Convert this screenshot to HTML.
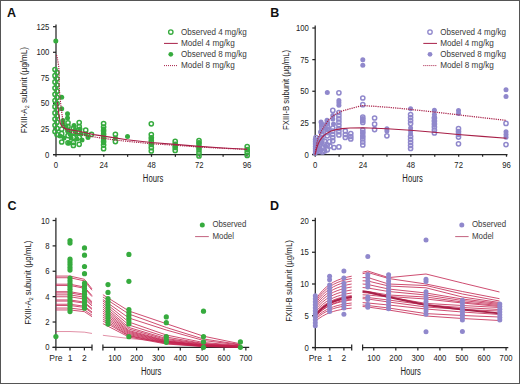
<!DOCTYPE html>
<html><head><meta charset="utf-8"><style>
html,body{margin:0;padding:0;background:#fff;}
svg{display:block;font-family:"Liberation Sans", sans-serif;}
</style></head><body>
<svg width="520" height="384" viewBox="0 0 520 384">
<rect x="0" y="0" width="520" height="384" fill="#fff"/>
<text x="7.00" y="16.90" font-size="12.5" text-anchor="start" font-weight="bold" fill="#111" >A</text>
<line x1="56.00" y1="24.50" x2="56.00" y2="155.10" stroke="#262626" stroke-width="1.25" />
<line x1="53.00" y1="154.60" x2="247.00" y2="154.60" stroke="#262626" stroke-width="1.25" />
<line x1="53.00" y1="154.60" x2="56.00" y2="154.60" stroke="#262626" stroke-width="1.25" />
<text x="49.30" y="157.60" font-size="8.5" text-anchor="end" font-weight="normal" fill="#222222" textLength="4.3" lengthAdjust="spacingAndGlyphs" >0</text>
<line x1="53.00" y1="129.02" x2="56.00" y2="129.02" stroke="#262626" stroke-width="1.25" />
<text x="49.30" y="132.02" font-size="8.5" text-anchor="end" font-weight="normal" fill="#222222" textLength="8.6" lengthAdjust="spacingAndGlyphs" >25</text>
<line x1="53.00" y1="103.44" x2="56.00" y2="103.44" stroke="#262626" stroke-width="1.25" />
<text x="49.30" y="106.44" font-size="8.5" text-anchor="end" font-weight="normal" fill="#222222" textLength="8.6" lengthAdjust="spacingAndGlyphs" >50</text>
<line x1="53.00" y1="77.86" x2="56.00" y2="77.86" stroke="#262626" stroke-width="1.25" />
<text x="49.30" y="80.86" font-size="8.5" text-anchor="end" font-weight="normal" fill="#222222" textLength="8.6" lengthAdjust="spacingAndGlyphs" >75</text>
<line x1="53.00" y1="52.28" x2="56.00" y2="52.28" stroke="#262626" stroke-width="1.25" />
<text x="49.30" y="55.28" font-size="8.5" text-anchor="end" font-weight="normal" fill="#222222" textLength="12.9" lengthAdjust="spacingAndGlyphs" >100</text>
<line x1="53.00" y1="26.70" x2="56.00" y2="26.70" stroke="#262626" stroke-width="1.25" />
<text x="49.30" y="29.70" font-size="8.5" text-anchor="end" font-weight="normal" fill="#222222" textLength="12.9" lengthAdjust="spacingAndGlyphs" >125</text>
<line x1="56.00" y1="154.60" x2="56.00" y2="156.80" stroke="#262626" stroke-width="1.25" />
<line x1="79.88" y1="154.60" x2="79.88" y2="156.80" stroke="#262626" stroke-width="1.25" />
<line x1="103.75" y1="154.60" x2="103.75" y2="156.80" stroke="#262626" stroke-width="1.25" />
<line x1="127.62" y1="154.60" x2="127.62" y2="156.80" stroke="#262626" stroke-width="1.25" />
<line x1="151.50" y1="154.60" x2="151.50" y2="156.80" stroke="#262626" stroke-width="1.25" />
<line x1="175.38" y1="154.60" x2="175.38" y2="156.80" stroke="#262626" stroke-width="1.25" />
<line x1="199.25" y1="154.60" x2="199.25" y2="156.80" stroke="#262626" stroke-width="1.25" />
<line x1="223.12" y1="154.60" x2="223.12" y2="156.80" stroke="#262626" stroke-width="1.25" />
<line x1="247.00" y1="154.60" x2="247.00" y2="156.80" stroke="#262626" stroke-width="1.25" />
<text x="56.00" y="167.80" font-size="8.5" text-anchor="middle" font-weight="normal" fill="#222222" textLength="4.3" lengthAdjust="spacingAndGlyphs" >0</text>
<text x="103.75" y="167.80" font-size="8.5" text-anchor="middle" font-weight="normal" fill="#222222" textLength="8.6" lengthAdjust="spacingAndGlyphs" >24</text>
<text x="151.50" y="167.80" font-size="8.5" text-anchor="middle" font-weight="normal" fill="#222222" textLength="8.6" lengthAdjust="spacingAndGlyphs" >48</text>
<text x="199.25" y="167.80" font-size="8.5" text-anchor="middle" font-weight="normal" fill="#222222" textLength="8.6" lengthAdjust="spacingAndGlyphs" >72</text>
<text x="247.00" y="167.80" font-size="8.5" text-anchor="middle" font-weight="normal" fill="#222222" textLength="8.6" lengthAdjust="spacingAndGlyphs" >96</text>
<text x="153.10" y="181.70" font-size="10" text-anchor="middle" font-weight="normal" fill="#222222" textLength="20.5" lengthAdjust="spacingAndGlyphs" >Hours</text>
<text x="0" y="0" transform="translate(27.4,90.2) rotate(-90)" font-size="8.4" text-anchor="middle" fill="#222222" textLength="86.3" lengthAdjust="spacingAndGlyphs">FXIII-A<tspan font-size="5.5" dy="1.5">2</tspan><tspan dy="-1.5"> subunit (µg/mL)</tspan></text>
<circle cx="170.80" cy="32.00" r="2.2" fill="none" stroke="#36ab3e" stroke-width="1.35"/>
<text x="181.00" y="34.60" font-size="8.3" text-anchor="start" font-weight="normal" fill="#3a3a3a" textLength="65.8" lengthAdjust="spacingAndGlyphs" >Observed 4 mg/kg</text>
<line x1="164.00" y1="43.40" x2="177.80" y2="43.40" stroke="#a82048" stroke-width="1.0" />
<text x="181.00" y="45.70" font-size="8.3" text-anchor="start" font-weight="normal" fill="#3a3a3a" textLength="53.7" lengthAdjust="spacingAndGlyphs" >Model 4 mg/kg</text>
<circle cx="170.80" cy="54.30" r="2.4" fill="#36ab3e"/>
<text x="181.00" y="56.90" font-size="8.3" text-anchor="start" font-weight="normal" fill="#3a3a3a" textLength="65.8" lengthAdjust="spacingAndGlyphs" >Observed 8 mg/kg</text>
<line x1="164.00" y1="65.60" x2="177.80" y2="65.60" stroke="#a82048" stroke-width="1.0" stroke-dasharray="1,1"/>
<text x="181.00" y="68.30" font-size="8.3" text-anchor="start" font-weight="normal" fill="#3a3a3a" textLength="53.7" lengthAdjust="spacingAndGlyphs" >Model 8 mg/kg</text>
<text x="270.30" y="16.90" font-size="12.5" text-anchor="start" font-weight="bold" fill="#111" >B</text>
<line x1="315.20" y1="25.50" x2="315.20" y2="155.00" stroke="#262626" stroke-width="1.25" />
<line x1="312.30" y1="154.50" x2="507.50" y2="154.50" stroke="#262626" stroke-width="1.25" />
<line x1="312.30" y1="154.50" x2="315.20" y2="154.50" stroke="#262626" stroke-width="1.25" />
<text x="308.80" y="157.50" font-size="8.5" text-anchor="end" font-weight="normal" fill="#222222" textLength="4.3" lengthAdjust="spacingAndGlyphs" >0</text>
<line x1="312.30" y1="122.88" x2="315.20" y2="122.88" stroke="#262626" stroke-width="1.25" />
<text x="308.80" y="125.88" font-size="8.5" text-anchor="end" font-weight="normal" fill="#222222" textLength="8.6" lengthAdjust="spacingAndGlyphs" >25</text>
<line x1="312.30" y1="91.25" x2="315.20" y2="91.25" stroke="#262626" stroke-width="1.25" />
<text x="308.80" y="94.25" font-size="8.5" text-anchor="end" font-weight="normal" fill="#222222" textLength="8.6" lengthAdjust="spacingAndGlyphs" >50</text>
<line x1="312.30" y1="59.62" x2="315.20" y2="59.62" stroke="#262626" stroke-width="1.25" />
<text x="308.80" y="62.62" font-size="8.5" text-anchor="end" font-weight="normal" fill="#222222" textLength="8.6" lengthAdjust="spacingAndGlyphs" >75</text>
<line x1="312.30" y1="28.00" x2="315.20" y2="28.00" stroke="#262626" stroke-width="1.25" />
<text x="308.80" y="31.00" font-size="8.5" text-anchor="end" font-weight="normal" fill="#222222" textLength="12.9" lengthAdjust="spacingAndGlyphs" >100</text>
<line x1="315.20" y1="154.50" x2="315.20" y2="156.70" stroke="#262626" stroke-width="1.25" />
<line x1="339.11" y1="154.50" x2="339.11" y2="156.70" stroke="#262626" stroke-width="1.25" />
<line x1="363.02" y1="154.50" x2="363.02" y2="156.70" stroke="#262626" stroke-width="1.25" />
<line x1="386.94" y1="154.50" x2="386.94" y2="156.70" stroke="#262626" stroke-width="1.25" />
<line x1="410.85" y1="154.50" x2="410.85" y2="156.70" stroke="#262626" stroke-width="1.25" />
<line x1="434.76" y1="154.50" x2="434.76" y2="156.70" stroke="#262626" stroke-width="1.25" />
<line x1="458.67" y1="154.50" x2="458.67" y2="156.70" stroke="#262626" stroke-width="1.25" />
<line x1="482.59" y1="154.50" x2="482.59" y2="156.70" stroke="#262626" stroke-width="1.25" />
<line x1="506.50" y1="154.50" x2="506.50" y2="156.70" stroke="#262626" stroke-width="1.25" />
<text x="315.20" y="167.80" font-size="8.5" text-anchor="middle" font-weight="normal" fill="#222222" textLength="4.3" lengthAdjust="spacingAndGlyphs" >0</text>
<text x="363.02" y="167.80" font-size="8.5" text-anchor="middle" font-weight="normal" fill="#222222" textLength="8.6" lengthAdjust="spacingAndGlyphs" >24</text>
<text x="410.85" y="167.80" font-size="8.5" text-anchor="middle" font-weight="normal" fill="#222222" textLength="8.6" lengthAdjust="spacingAndGlyphs" >48</text>
<text x="458.67" y="167.80" font-size="8.5" text-anchor="middle" font-weight="normal" fill="#222222" textLength="8.6" lengthAdjust="spacingAndGlyphs" >72</text>
<text x="506.50" y="167.80" font-size="8.5" text-anchor="middle" font-weight="normal" fill="#222222" textLength="8.6" lengthAdjust="spacingAndGlyphs" >96</text>
<text x="412.60" y="181.70" font-size="10" text-anchor="middle" font-weight="normal" fill="#222222" textLength="20.5" lengthAdjust="spacingAndGlyphs" >Hours</text>
<text x="0" y="0" transform="translate(289.0,89.9) rotate(-90)" font-size="8.4" text-anchor="middle" fill="#222222" textLength="80.0" lengthAdjust="spacingAndGlyphs">FXIII-B subunit (µg/mL)</text>
<circle cx="430.00" cy="32.00" r="2.2" fill="none" stroke="#9088cc" stroke-width="1.35"/>
<text x="440.20" y="34.60" font-size="8.3" text-anchor="start" font-weight="normal" fill="#3a3a3a" textLength="65.8" lengthAdjust="spacingAndGlyphs" >Observed 4 mg/kg</text>
<line x1="423.30" y1="43.40" x2="437.00" y2="43.40" stroke="#a82048" stroke-width="1.0" />
<text x="440.20" y="45.70" font-size="8.3" text-anchor="start" font-weight="normal" fill="#3a3a3a" textLength="53.7" lengthAdjust="spacingAndGlyphs" >Model 4 mg/kg</text>
<circle cx="430.00" cy="54.30" r="2.4" fill="#9088cc"/>
<text x="440.20" y="56.90" font-size="8.3" text-anchor="start" font-weight="normal" fill="#3a3a3a" textLength="65.8" lengthAdjust="spacingAndGlyphs" >Observed 8 mg/kg</text>
<line x1="423.30" y1="65.60" x2="437.00" y2="65.60" stroke="#a82048" stroke-width="1.0" stroke-dasharray="1,1"/>
<text x="440.20" y="68.30" font-size="8.3" text-anchor="start" font-weight="normal" fill="#3a3a3a" textLength="53.7" lengthAdjust="spacingAndGlyphs" >Model 8 mg/kg</text>
<text x="7.50" y="210.30" font-size="12.5" text-anchor="start" font-weight="bold" fill="#111" >C</text>
<line x1="55.90" y1="217.70" x2="55.90" y2="350.40" stroke="#262626" stroke-width="1.25" />
<line x1="52.60" y1="347.40" x2="92.00" y2="347.40" stroke="#262626" stroke-width="1.25" />
<line x1="92.00" y1="344.40" x2="92.00" y2="350.40" stroke="#262626" stroke-width="1.25" />
<line x1="102.90" y1="347.40" x2="249.20" y2="347.40" stroke="#262626" stroke-width="1.25" />
<line x1="102.90" y1="344.40" x2="102.90" y2="350.40" stroke="#262626" stroke-width="1.25" />
<line x1="52.60" y1="347.40" x2="55.90" y2="347.40" stroke="#262626" stroke-width="1.25" />
<text x="49.50" y="350.40" font-size="8.5" text-anchor="end" font-weight="normal" fill="#222222" textLength="4.3" lengthAdjust="spacingAndGlyphs" >0</text>
<line x1="52.60" y1="322.02" x2="55.90" y2="322.02" stroke="#262626" stroke-width="1.25" />
<text x="49.50" y="325.02" font-size="8.5" text-anchor="end" font-weight="normal" fill="#222222" textLength="4.3" lengthAdjust="spacingAndGlyphs" >2</text>
<line x1="52.60" y1="296.64" x2="55.90" y2="296.64" stroke="#262626" stroke-width="1.25" />
<text x="49.50" y="299.64" font-size="8.5" text-anchor="end" font-weight="normal" fill="#222222" textLength="4.3" lengthAdjust="spacingAndGlyphs" >4</text>
<line x1="52.60" y1="271.26" x2="55.90" y2="271.26" stroke="#262626" stroke-width="1.25" />
<text x="49.50" y="274.26" font-size="8.5" text-anchor="end" font-weight="normal" fill="#222222" textLength="4.3" lengthAdjust="spacingAndGlyphs" >6</text>
<line x1="52.60" y1="245.88" x2="55.90" y2="245.88" stroke="#262626" stroke-width="1.25" />
<text x="49.50" y="248.88" font-size="8.5" text-anchor="end" font-weight="normal" fill="#222222" textLength="4.3" lengthAdjust="spacingAndGlyphs" >8</text>
<line x1="52.60" y1="220.50" x2="55.90" y2="220.50" stroke="#262626" stroke-width="1.25" />
<text x="49.50" y="223.50" font-size="8.5" text-anchor="end" font-weight="normal" fill="#222222" textLength="8.6" lengthAdjust="spacingAndGlyphs" >10</text>
<line x1="70.00" y1="347.40" x2="70.00" y2="350.40" stroke="#262626" stroke-width="1.25" />
<line x1="84.40" y1="347.40" x2="84.40" y2="350.40" stroke="#262626" stroke-width="1.25" />
<text x="55.90" y="361.20" font-size="8.5" text-anchor="middle" font-weight="normal" fill="#222222" >Pre</text>
<text x="70.00" y="361.20" font-size="8.5" text-anchor="middle" font-weight="normal" fill="#222222" >1</text>
<text x="84.40" y="361.20" font-size="8.5" text-anchor="middle" font-weight="normal" fill="#222222" >2</text>
<line x1="114.75" y1="347.40" x2="114.75" y2="350.40" stroke="#262626" stroke-width="1.25" />
<text x="114.75" y="361.20" font-size="8.5" text-anchor="middle" font-weight="normal" fill="#222222" textLength="12.9" lengthAdjust="spacingAndGlyphs" >100</text>
<line x1="136.60" y1="347.40" x2="136.60" y2="350.40" stroke="#262626" stroke-width="1.25" />
<text x="136.60" y="361.20" font-size="8.5" text-anchor="middle" font-weight="normal" fill="#222222" textLength="12.9" lengthAdjust="spacingAndGlyphs" >200</text>
<line x1="158.45" y1="347.40" x2="158.45" y2="350.40" stroke="#262626" stroke-width="1.25" />
<text x="158.45" y="361.20" font-size="8.5" text-anchor="middle" font-weight="normal" fill="#222222" textLength="12.9" lengthAdjust="spacingAndGlyphs" >300</text>
<line x1="180.30" y1="347.40" x2="180.30" y2="350.40" stroke="#262626" stroke-width="1.25" />
<text x="180.30" y="361.20" font-size="8.5" text-anchor="middle" font-weight="normal" fill="#222222" textLength="12.9" lengthAdjust="spacingAndGlyphs" >400</text>
<line x1="202.15" y1="347.40" x2="202.15" y2="350.40" stroke="#262626" stroke-width="1.25" />
<text x="202.15" y="361.20" font-size="8.5" text-anchor="middle" font-weight="normal" fill="#222222" textLength="12.9" lengthAdjust="spacingAndGlyphs" >500</text>
<line x1="224.00" y1="347.40" x2="224.00" y2="350.40" stroke="#262626" stroke-width="1.25" />
<text x="224.00" y="361.20" font-size="8.5" text-anchor="middle" font-weight="normal" fill="#222222" textLength="12.9" lengthAdjust="spacingAndGlyphs" >600</text>
<line x1="245.85" y1="347.40" x2="245.85" y2="350.40" stroke="#262626" stroke-width="1.25" />
<text x="245.85" y="361.20" font-size="8.5" text-anchor="middle" font-weight="normal" fill="#222222" textLength="12.9" lengthAdjust="spacingAndGlyphs" >700</text>
<text x="151.20" y="375.00" font-size="10" text-anchor="middle" font-weight="normal" fill="#222222" textLength="20.5" lengthAdjust="spacingAndGlyphs" >Hours</text>
<text x="0" y="0" transform="translate(31.0,282.7) rotate(-90)" font-size="8.4" text-anchor="middle" fill="#222222" textLength="84.2" lengthAdjust="spacingAndGlyphs">FXIII-A<tspan font-size="5.5" dy="1.5">2</tspan><tspan dy="-1.5"> subunit (µg/mL)</tspan></text>
<circle cx="202.30" cy="225.00" r="2.5" fill="#36ab3e"/>
<text x="212.40" y="227.40" font-size="8.3" text-anchor="start" font-weight="normal" fill="#3a3a3a" textLength="33.9" lengthAdjust="spacingAndGlyphs" >Observed</text>
<line x1="195.10" y1="236.60" x2="208.80" y2="236.60" stroke="#a82048" stroke-width="0.7" />
<text x="212.40" y="238.90" font-size="8.3" text-anchor="start" font-weight="normal" fill="#3a3a3a" textLength="21.6" lengthAdjust="spacingAndGlyphs" >Model</text>
<text x="269.90" y="210.30" font-size="12.5" text-anchor="start" font-weight="bold" fill="#111" >D</text>
<line x1="315.30" y1="217.70" x2="315.30" y2="350.50" stroke="#262626" stroke-width="1.25" />
<line x1="312.00" y1="347.50" x2="351.70" y2="347.50" stroke="#262626" stroke-width="1.25" />
<line x1="351.70" y1="344.50" x2="351.70" y2="350.50" stroke="#262626" stroke-width="1.25" />
<line x1="362.60" y1="347.50" x2="508.30" y2="347.50" stroke="#262626" stroke-width="1.25" />
<line x1="362.60" y1="344.50" x2="362.60" y2="350.50" stroke="#262626" stroke-width="1.25" />
<line x1="312.00" y1="347.50" x2="315.30" y2="347.50" stroke="#262626" stroke-width="1.25" />
<text x="308.90" y="350.50" font-size="8.5" text-anchor="end" font-weight="normal" fill="#222222" textLength="4.3" lengthAdjust="spacingAndGlyphs" >0</text>
<line x1="312.00" y1="315.75" x2="315.30" y2="315.75" stroke="#262626" stroke-width="1.25" />
<text x="308.90" y="318.75" font-size="8.5" text-anchor="end" font-weight="normal" fill="#222222" textLength="4.3" lengthAdjust="spacingAndGlyphs" >5</text>
<line x1="312.00" y1="284.00" x2="315.30" y2="284.00" stroke="#262626" stroke-width="1.25" />
<text x="308.90" y="287.00" font-size="8.5" text-anchor="end" font-weight="normal" fill="#222222" textLength="8.6" lengthAdjust="spacingAndGlyphs" >10</text>
<line x1="312.00" y1="252.25" x2="315.30" y2="252.25" stroke="#262626" stroke-width="1.25" />
<text x="308.90" y="255.25" font-size="8.5" text-anchor="end" font-weight="normal" fill="#222222" textLength="8.6" lengthAdjust="spacingAndGlyphs" >15</text>
<line x1="312.00" y1="220.50" x2="315.30" y2="220.50" stroke="#262626" stroke-width="1.25" />
<text x="308.90" y="223.50" font-size="8.5" text-anchor="end" font-weight="normal" fill="#222222" textLength="8.6" lengthAdjust="spacingAndGlyphs" >20</text>
<line x1="329.80" y1="347.50" x2="329.80" y2="350.50" stroke="#262626" stroke-width="1.25" />
<line x1="343.90" y1="347.50" x2="343.90" y2="350.50" stroke="#262626" stroke-width="1.25" />
<text x="315.30" y="361.20" font-size="8.5" text-anchor="middle" font-weight="normal" fill="#222222" >Pre</text>
<text x="329.80" y="361.20" font-size="8.5" text-anchor="middle" font-weight="normal" fill="#222222" >1</text>
<text x="343.90" y="361.20" font-size="8.5" text-anchor="middle" font-weight="normal" fill="#222222" >2</text>
<line x1="373.75" y1="347.50" x2="373.75" y2="350.50" stroke="#262626" stroke-width="1.25" />
<text x="373.75" y="361.20" font-size="8.5" text-anchor="middle" font-weight="normal" fill="#222222" textLength="12.9" lengthAdjust="spacingAndGlyphs" >100</text>
<line x1="395.80" y1="347.50" x2="395.80" y2="350.50" stroke="#262626" stroke-width="1.25" />
<text x="395.80" y="361.20" font-size="8.5" text-anchor="middle" font-weight="normal" fill="#222222" textLength="12.9" lengthAdjust="spacingAndGlyphs" >200</text>
<line x1="417.85" y1="347.50" x2="417.85" y2="350.50" stroke="#262626" stroke-width="1.25" />
<text x="417.85" y="361.20" font-size="8.5" text-anchor="middle" font-weight="normal" fill="#222222" textLength="12.9" lengthAdjust="spacingAndGlyphs" >300</text>
<line x1="439.90" y1="347.50" x2="439.90" y2="350.50" stroke="#262626" stroke-width="1.25" />
<text x="439.90" y="361.20" font-size="8.5" text-anchor="middle" font-weight="normal" fill="#222222" textLength="12.9" lengthAdjust="spacingAndGlyphs" >400</text>
<line x1="461.95" y1="347.50" x2="461.95" y2="350.50" stroke="#262626" stroke-width="1.25" />
<text x="461.95" y="361.20" font-size="8.5" text-anchor="middle" font-weight="normal" fill="#222222" textLength="12.9" lengthAdjust="spacingAndGlyphs" >500</text>
<line x1="484.00" y1="347.50" x2="484.00" y2="350.50" stroke="#262626" stroke-width="1.25" />
<text x="484.00" y="361.20" font-size="8.5" text-anchor="middle" font-weight="normal" fill="#222222" textLength="12.9" lengthAdjust="spacingAndGlyphs" >600</text>
<line x1="506.05" y1="347.50" x2="506.05" y2="350.50" stroke="#262626" stroke-width="1.25" />
<text x="506.05" y="361.20" font-size="8.5" text-anchor="middle" font-weight="normal" fill="#222222" textLength="12.9" lengthAdjust="spacingAndGlyphs" >700</text>
<text x="410.70" y="375.00" font-size="10" text-anchor="middle" font-weight="normal" fill="#222222" textLength="20.5" lengthAdjust="spacingAndGlyphs" >Hours</text>
<text x="0" y="0" transform="translate(292.0,280.9) rotate(-90)" font-size="8.4" text-anchor="middle" fill="#222222" textLength="81.7" lengthAdjust="spacingAndGlyphs">FXIII-B subunit (µg/mL)</text>
<circle cx="461.80" cy="224.90" r="2.5" fill="#9088cc"/>
<text x="472.00" y="227.40" font-size="8.3" text-anchor="start" font-weight="normal" fill="#3a3a3a" textLength="34.1" lengthAdjust="spacingAndGlyphs" >Observed</text>
<line x1="455.20" y1="236.60" x2="468.60" y2="236.60" stroke="#a82048" stroke-width="0.7" />
<text x="472.00" y="238.90" font-size="8.3" text-anchor="start" font-weight="normal" fill="#3a3a3a" textLength="21.6" lengthAdjust="spacingAndGlyphs" >Model</text>
<circle cx="55.80" cy="41.00" r="2.5" fill="#36ab3e"/>
<circle cx="61.70" cy="97.30" r="2.5" fill="#36ab3e"/>
<circle cx="61.70" cy="108.80" r="2.5" fill="#36ab3e"/>
<circle cx="67.50" cy="113.80" r="2.5" fill="#36ab3e"/>
<circle cx="67.50" cy="117.90" r="2.5" fill="#36ab3e"/>
<circle cx="63.00" cy="120.50" r="2.5" fill="#36ab3e"/>
<circle cx="63.00" cy="124.00" r="2.5" fill="#36ab3e"/>
<circle cx="66.00" cy="127.00" r="2.5" fill="#36ab3e"/>
<circle cx="68.00" cy="131.50" r="2.5" fill="#36ab3e"/>
<circle cx="70.00" cy="134.00" r="2.5" fill="#36ab3e"/>
<circle cx="71.00" cy="138.00" r="2.5" fill="#36ab3e"/>
<circle cx="74.00" cy="125.50" r="2.5" fill="#36ab3e"/>
<circle cx="75.00" cy="130.00" r="2.5" fill="#36ab3e"/>
<circle cx="76.00" cy="134.00" r="2.5" fill="#36ab3e"/>
<circle cx="77.00" cy="139.00" r="2.5" fill="#36ab3e"/>
<circle cx="80.00" cy="129.00" r="2.5" fill="#36ab3e"/>
<circle cx="81.00" cy="134.00" r="2.5" fill="#36ab3e"/>
<circle cx="82.00" cy="140.00" r="2.5" fill="#36ab3e"/>
<circle cx="86.00" cy="134.00" r="2.5" fill="#36ab3e"/>
<circle cx="88.00" cy="137.50" r="2.5" fill="#36ab3e"/>
<circle cx="69.00" cy="143.00" r="2.5" fill="#36ab3e"/>
<circle cx="64.00" cy="138.00" r="2.5" fill="#36ab3e"/>
<circle cx="60.00" cy="136.00" r="2.5" fill="#36ab3e"/>
<circle cx="103.60" cy="129.00" r="2.5" fill="#36ab3e"/>
<circle cx="103.60" cy="132.50" r="2.5" fill="#36ab3e"/>
<circle cx="103.60" cy="136.00" r="2.5" fill="#36ab3e"/>
<circle cx="103.60" cy="139.50" r="2.5" fill="#36ab3e"/>
<circle cx="103.60" cy="143.00" r="2.5" fill="#36ab3e"/>
<circle cx="115.40" cy="138.00" r="2.5" fill="#36ab3e"/>
<circle cx="127.50" cy="136.40" r="2.5" fill="#36ab3e"/>
<circle cx="151.30" cy="139.00" r="2.5" fill="#36ab3e"/>
<circle cx="151.30" cy="143.50" r="2.5" fill="#36ab3e"/>
<circle cx="175.20" cy="146.00" r="2.5" fill="#36ab3e"/>
<circle cx="199.00" cy="142.50" r="2.5" fill="#36ab3e"/>
<circle cx="199.00" cy="148.00" r="2.5" fill="#36ab3e"/>
<circle cx="247.20" cy="150.00" r="2.5" fill="#36ab3e"/>
<circle cx="55.00" cy="69.50" r="2.1" fill="none" stroke="#36ab3e" stroke-width="1.5"/>
<circle cx="57.00" cy="72.60" r="2.1" fill="none" stroke="#36ab3e" stroke-width="1.5"/>
<circle cx="55.00" cy="75.70" r="2.1" fill="none" stroke="#36ab3e" stroke-width="1.5"/>
<circle cx="57.00" cy="78.80" r="2.1" fill="none" stroke="#36ab3e" stroke-width="1.5"/>
<circle cx="55.00" cy="81.90" r="2.1" fill="none" stroke="#36ab3e" stroke-width="1.5"/>
<circle cx="57.00" cy="85.00" r="2.1" fill="none" stroke="#36ab3e" stroke-width="1.5"/>
<circle cx="55.00" cy="88.10" r="2.1" fill="none" stroke="#36ab3e" stroke-width="1.5"/>
<circle cx="57.00" cy="91.20" r="2.1" fill="none" stroke="#36ab3e" stroke-width="1.5"/>
<circle cx="55.00" cy="94.30" r="2.1" fill="none" stroke="#36ab3e" stroke-width="1.5"/>
<circle cx="57.00" cy="97.40" r="2.1" fill="none" stroke="#36ab3e" stroke-width="1.5"/>
<circle cx="55.00" cy="100.50" r="2.1" fill="none" stroke="#36ab3e" stroke-width="1.5"/>
<circle cx="57.00" cy="103.60" r="2.1" fill="none" stroke="#36ab3e" stroke-width="1.5"/>
<circle cx="55.00" cy="106.70" r="2.1" fill="none" stroke="#36ab3e" stroke-width="1.5"/>
<circle cx="57.00" cy="109.80" r="2.1" fill="none" stroke="#36ab3e" stroke-width="1.5"/>
<circle cx="55.00" cy="112.90" r="2.1" fill="none" stroke="#36ab3e" stroke-width="1.5"/>
<circle cx="57.00" cy="116.00" r="2.1" fill="none" stroke="#36ab3e" stroke-width="1.5"/>
<circle cx="55.00" cy="119.10" r="2.1" fill="none" stroke="#36ab3e" stroke-width="1.5"/>
<circle cx="57.00" cy="122.20" r="2.1" fill="none" stroke="#36ab3e" stroke-width="1.5"/>
<circle cx="55.00" cy="125.30" r="2.1" fill="none" stroke="#36ab3e" stroke-width="1.5"/>
<circle cx="57.00" cy="128.40" r="2.1" fill="none" stroke="#36ab3e" stroke-width="1.5"/>
<circle cx="55.00" cy="131.50" r="2.1" fill="none" stroke="#36ab3e" stroke-width="1.5"/>
<circle cx="57.00" cy="134.60" r="2.1" fill="none" stroke="#36ab3e" stroke-width="1.5"/>
<circle cx="61.70" cy="129.20" r="2.1" fill="none" stroke="#36ab3e" stroke-width="1.5"/>
<circle cx="61.70" cy="133.70" r="2.1" fill="none" stroke="#36ab3e" stroke-width="1.5"/>
<circle cx="61.70" cy="142.00" r="2.1" fill="none" stroke="#36ab3e" stroke-width="1.5"/>
<circle cx="68.00" cy="122.80" r="2.1" fill="none" stroke="#36ab3e" stroke-width="1.5"/>
<circle cx="68.00" cy="126.40" r="2.1" fill="none" stroke="#36ab3e" stroke-width="1.5"/>
<circle cx="68.00" cy="130.50" r="2.1" fill="none" stroke="#36ab3e" stroke-width="1.5"/>
<circle cx="68.00" cy="135.60" r="2.1" fill="none" stroke="#36ab3e" stroke-width="1.5"/>
<circle cx="68.00" cy="142.80" r="2.1" fill="none" stroke="#36ab3e" stroke-width="1.5"/>
<circle cx="73.40" cy="128.30" r="2.1" fill="none" stroke="#36ab3e" stroke-width="1.5"/>
<circle cx="73.40" cy="132.50" r="2.1" fill="none" stroke="#36ab3e" stroke-width="1.5"/>
<circle cx="73.40" cy="137.40" r="2.1" fill="none" stroke="#36ab3e" stroke-width="1.5"/>
<circle cx="73.40" cy="142.50" r="2.1" fill="none" stroke="#36ab3e" stroke-width="1.5"/>
<circle cx="73.40" cy="145.40" r="2.1" fill="none" stroke="#36ab3e" stroke-width="1.5"/>
<circle cx="79.20" cy="122.60" r="2.1" fill="none" stroke="#36ab3e" stroke-width="1.5"/>
<circle cx="79.20" cy="126.70" r="2.1" fill="none" stroke="#36ab3e" stroke-width="1.5"/>
<circle cx="79.20" cy="131.90" r="2.1" fill="none" stroke="#36ab3e" stroke-width="1.5"/>
<circle cx="79.20" cy="137.40" r="2.1" fill="none" stroke="#36ab3e" stroke-width="1.5"/>
<circle cx="79.20" cy="144.30" r="2.1" fill="none" stroke="#36ab3e" stroke-width="1.5"/>
<circle cx="85.70" cy="130.20" r="2.1" fill="none" stroke="#36ab3e" stroke-width="1.5"/>
<circle cx="91.50" cy="134.30" r="2.1" fill="none" stroke="#36ab3e" stroke-width="1.5"/>
<circle cx="103.60" cy="123.50" r="2.1" fill="none" stroke="#36ab3e" stroke-width="1.5"/>
<circle cx="103.60" cy="127.10" r="2.1" fill="none" stroke="#36ab3e" stroke-width="1.5"/>
<circle cx="103.60" cy="130.70" r="2.1" fill="none" stroke="#36ab3e" stroke-width="1.5"/>
<circle cx="103.60" cy="134.30" r="2.1" fill="none" stroke="#36ab3e" stroke-width="1.5"/>
<circle cx="103.60" cy="137.90" r="2.1" fill="none" stroke="#36ab3e" stroke-width="1.5"/>
<circle cx="103.60" cy="141.50" r="2.1" fill="none" stroke="#36ab3e" stroke-width="1.5"/>
<circle cx="103.60" cy="145.10" r="2.1" fill="none" stroke="#36ab3e" stroke-width="1.5"/>
<circle cx="103.60" cy="148.70" r="2.1" fill="none" stroke="#36ab3e" stroke-width="1.5"/>
<circle cx="115.40" cy="134.30" r="2.1" fill="none" stroke="#36ab3e" stroke-width="1.5"/>
<circle cx="115.40" cy="141.60" r="2.1" fill="none" stroke="#36ab3e" stroke-width="1.5"/>
<circle cx="151.30" cy="123.80" r="2.1" fill="none" stroke="#36ab3e" stroke-width="1.5"/>
<circle cx="151.30" cy="134.50" r="2.1" fill="none" stroke="#36ab3e" stroke-width="1.5"/>
<circle cx="151.30" cy="137.80" r="2.1" fill="none" stroke="#36ab3e" stroke-width="1.5"/>
<circle cx="151.30" cy="141.10" r="2.1" fill="none" stroke="#36ab3e" stroke-width="1.5"/>
<circle cx="151.30" cy="144.40" r="2.1" fill="none" stroke="#36ab3e" stroke-width="1.5"/>
<circle cx="151.30" cy="147.70" r="2.1" fill="none" stroke="#36ab3e" stroke-width="1.5"/>
<circle cx="151.30" cy="151.00" r="2.1" fill="none" stroke="#36ab3e" stroke-width="1.5"/>
<circle cx="175.20" cy="141.40" r="2.1" fill="none" stroke="#36ab3e" stroke-width="1.5"/>
<circle cx="175.20" cy="144.40" r="2.1" fill="none" stroke="#36ab3e" stroke-width="1.5"/>
<circle cx="175.20" cy="147.40" r="2.1" fill="none" stroke="#36ab3e" stroke-width="1.5"/>
<circle cx="175.20" cy="150.40" r="2.1" fill="none" stroke="#36ab3e" stroke-width="1.5"/>
<circle cx="199.00" cy="140.50" r="2.1" fill="none" stroke="#36ab3e" stroke-width="1.5"/>
<circle cx="199.00" cy="143.60" r="2.1" fill="none" stroke="#36ab3e" stroke-width="1.5"/>
<circle cx="199.00" cy="146.70" r="2.1" fill="none" stroke="#36ab3e" stroke-width="1.5"/>
<circle cx="199.00" cy="149.80" r="2.1" fill="none" stroke="#36ab3e" stroke-width="1.5"/>
<circle cx="199.00" cy="152.90" r="2.1" fill="none" stroke="#36ab3e" stroke-width="1.5"/>
<circle cx="199.00" cy="156.00" r="2.1" fill="none" stroke="#36ab3e" stroke-width="1.5"/>
<circle cx="247.20" cy="146.50" r="2.1" fill="none" stroke="#36ab3e" stroke-width="1.5"/>
<circle cx="247.20" cy="149.50" r="2.1" fill="none" stroke="#36ab3e" stroke-width="1.5"/>
<circle cx="247.20" cy="152.50" r="2.1" fill="none" stroke="#36ab3e" stroke-width="1.5"/>
<circle cx="247.20" cy="155.50" r="2.1" fill="none" stroke="#36ab3e" stroke-width="1.5"/>
<polyline points="57.50,102.00 57.80,105.50 58.80,114.00 60.30,123.30 62.00,126.50 65.00,128.50 70.80,129.90 80.00,131.50 93.90,134.60 103.60,136.10 115.00,137.90 127.00,139.70 151.30,142.50 175.00,144.40 199.00,146.40 223.00,148.00 247.00,149.20" fill="none" stroke="#a82048" stroke-width="1.1" stroke-linejoin="round" />
<polyline points="56.50,55.00 57.30,58.00 58.00,62.00 58.80,67.00 59.10,75.00 59.30,89.00 60.30,100.70 61.90,113.60 63.00,122.00 64.50,128.00 67.00,130.80 72.00,132.50 80.00,134.00 90.00,136.40 103.60,138.30 115.00,140.00 127.00,141.30 151.30,143.70 175.00,145.20 199.00,147.00 223.00,148.30 247.00,149.40" fill="none" stroke="#a82048" stroke-width="1.2" stroke-linejoin="round" stroke-dasharray="1.2,1.0"/>
<circle cx="315.30" cy="139.50" r="2.5" fill="#9088cc"/>
<circle cx="315.30" cy="141.80" r="2.5" fill="#9088cc"/>
<circle cx="315.30" cy="144.10" r="2.5" fill="#9088cc"/>
<circle cx="315.30" cy="146.40" r="2.5" fill="#9088cc"/>
<circle cx="315.30" cy="148.70" r="2.5" fill="#9088cc"/>
<circle cx="315.30" cy="151.00" r="2.5" fill="#9088cc"/>
<circle cx="315.30" cy="153.30" r="2.5" fill="#9088cc"/>
<circle cx="317.60" cy="141.00" r="2.5" fill="#9088cc"/>
<circle cx="317.60" cy="143.50" r="2.5" fill="#9088cc"/>
<circle cx="317.60" cy="146.00" r="2.5" fill="#9088cc"/>
<circle cx="317.60" cy="148.50" r="2.5" fill="#9088cc"/>
<circle cx="317.60" cy="151.00" r="2.5" fill="#9088cc"/>
<circle cx="321.50" cy="143.50" r="2.5" fill="#9088cc"/>
<circle cx="325.50" cy="146.00" r="2.5" fill="#9088cc"/>
<circle cx="320.50" cy="149.00" r="2.5" fill="#9088cc"/>
<circle cx="321.00" cy="121.90" r="2.5" fill="#9088cc"/>
<circle cx="321.50" cy="125.50" r="2.5" fill="#9088cc"/>
<circle cx="320.50" cy="132.00" r="2.5" fill="#9088cc"/>
<circle cx="327.30" cy="92.40" r="2.5" fill="#9088cc"/>
<circle cx="327.00" cy="120.30" r="2.5" fill="#9088cc"/>
<circle cx="327.00" cy="123.50" r="2.5" fill="#9088cc"/>
<circle cx="326.50" cy="128.50" r="2.5" fill="#9088cc"/>
<circle cx="332.80" cy="115.60" r="2.5" fill="#9088cc"/>
<circle cx="332.80" cy="119.00" r="2.5" fill="#9088cc"/>
<circle cx="333.50" cy="124.00" r="2.5" fill="#9088cc"/>
<circle cx="338.90" cy="100.60" r="2.5" fill="#9088cc"/>
<circle cx="338.90" cy="102.80" r="2.5" fill="#9088cc"/>
<circle cx="338.90" cy="105.20" r="2.5" fill="#9088cc"/>
<circle cx="362.80" cy="59.70" r="2.5" fill="#9088cc"/>
<circle cx="362.80" cy="65.20" r="2.5" fill="#9088cc"/>
<circle cx="362.80" cy="118.50" r="2.5" fill="#9088cc"/>
<circle cx="362.80" cy="121.00" r="2.5" fill="#9088cc"/>
<circle cx="362.80" cy="132.00" r="2.5" fill="#9088cc"/>
<circle cx="362.80" cy="137.00" r="2.5" fill="#9088cc"/>
<circle cx="386.90" cy="128.80" r="2.5" fill="#9088cc"/>
<circle cx="386.90" cy="131.00" r="2.5" fill="#9088cc"/>
<circle cx="410.60" cy="108.80" r="2.5" fill="#9088cc"/>
<circle cx="410.60" cy="128.00" r="2.5" fill="#9088cc"/>
<circle cx="410.60" cy="131.00" r="2.5" fill="#9088cc"/>
<circle cx="410.60" cy="134.00" r="2.5" fill="#9088cc"/>
<circle cx="434.40" cy="110.30" r="2.5" fill="#9088cc"/>
<circle cx="434.40" cy="114.50" r="2.5" fill="#9088cc"/>
<circle cx="434.40" cy="117.50" r="2.5" fill="#9088cc"/>
<circle cx="434.40" cy="121.00" r="2.5" fill="#9088cc"/>
<circle cx="434.40" cy="125.00" r="2.5" fill="#9088cc"/>
<circle cx="458.50" cy="110.60" r="2.5" fill="#9088cc"/>
<circle cx="458.50" cy="113.60" r="2.5" fill="#9088cc"/>
<circle cx="458.50" cy="131.50" r="2.5" fill="#9088cc"/>
<circle cx="458.50" cy="134.50" r="2.5" fill="#9088cc"/>
<circle cx="506.00" cy="89.70" r="2.5" fill="#9088cc"/>
<circle cx="506.00" cy="96.60" r="2.5" fill="#9088cc"/>
<circle cx="506.00" cy="131.80" r="2.5" fill="#9088cc"/>
<circle cx="506.00" cy="134.50" r="2.5" fill="#9088cc"/>
<circle cx="506.00" cy="137.30" r="2.5" fill="#9088cc"/>
<circle cx="316.00" cy="137.50" r="2.1" fill="none" stroke="#9088cc" stroke-width="1.5"/>
<circle cx="319.80" cy="138.50" r="2.1" fill="none" stroke="#9088cc" stroke-width="1.5"/>
<circle cx="320.00" cy="145.00" r="2.1" fill="none" stroke="#9088cc" stroke-width="1.5"/>
<circle cx="322.20" cy="147.50" r="2.1" fill="none" stroke="#9088cc" stroke-width="1.5"/>
<circle cx="324.60" cy="151.00" r="2.1" fill="none" stroke="#9088cc" stroke-width="1.5"/>
<circle cx="319.50" cy="151.50" r="2.1" fill="none" stroke="#9088cc" stroke-width="1.5"/>
<circle cx="324.50" cy="141.00" r="2.1" fill="none" stroke="#9088cc" stroke-width="1.5"/>
<circle cx="329.50" cy="141.50" r="2.1" fill="none" stroke="#9088cc" stroke-width="1.5"/>
<circle cx="330.00" cy="146.00" r="2.1" fill="none" stroke="#9088cc" stroke-width="1.5"/>
<circle cx="334.00" cy="147.50" r="2.1" fill="none" stroke="#9088cc" stroke-width="1.5"/>
<circle cx="322.50" cy="152.00" r="2.1" fill="none" stroke="#9088cc" stroke-width="1.5"/>
<circle cx="321.90" cy="124.50" r="2.1" fill="none" stroke="#9088cc" stroke-width="1.5"/>
<circle cx="321.90" cy="127.70" r="2.1" fill="none" stroke="#9088cc" stroke-width="1.5"/>
<circle cx="321.90" cy="130.90" r="2.1" fill="none" stroke="#9088cc" stroke-width="1.5"/>
<circle cx="321.90" cy="134.10" r="2.1" fill="none" stroke="#9088cc" stroke-width="1.5"/>
<circle cx="321.90" cy="137.30" r="2.1" fill="none" stroke="#9088cc" stroke-width="1.5"/>
<circle cx="321.90" cy="140.50" r="2.1" fill="none" stroke="#9088cc" stroke-width="1.5"/>
<circle cx="327.30" cy="123.00" r="2.1" fill="none" stroke="#9088cc" stroke-width="1.5"/>
<circle cx="327.30" cy="126.20" r="2.1" fill="none" stroke="#9088cc" stroke-width="1.5"/>
<circle cx="327.30" cy="129.40" r="2.1" fill="none" stroke="#9088cc" stroke-width="1.5"/>
<circle cx="327.30" cy="132.60" r="2.1" fill="none" stroke="#9088cc" stroke-width="1.5"/>
<circle cx="327.30" cy="135.80" r="2.1" fill="none" stroke="#9088cc" stroke-width="1.5"/>
<circle cx="327.30" cy="145.30" r="2.1" fill="none" stroke="#9088cc" stroke-width="1.5"/>
<circle cx="327.30" cy="149.80" r="2.1" fill="none" stroke="#9088cc" stroke-width="1.5"/>
<circle cx="332.80" cy="110.40" r="2.1" fill="none" stroke="#9088cc" stroke-width="1.5"/>
<circle cx="332.80" cy="128.00" r="2.1" fill="none" stroke="#9088cc" stroke-width="1.5"/>
<circle cx="332.80" cy="131.20" r="2.1" fill="none" stroke="#9088cc" stroke-width="1.5"/>
<circle cx="332.80" cy="134.40" r="2.1" fill="none" stroke="#9088cc" stroke-width="1.5"/>
<circle cx="332.80" cy="137.60" r="2.1" fill="none" stroke="#9088cc" stroke-width="1.5"/>
<circle cx="332.80" cy="140.80" r="2.1" fill="none" stroke="#9088cc" stroke-width="1.5"/>
<circle cx="338.90" cy="92.80" r="2.1" fill="none" stroke="#9088cc" stroke-width="1.5"/>
<circle cx="338.90" cy="112.50" r="2.1" fill="none" stroke="#9088cc" stroke-width="1.5"/>
<circle cx="338.90" cy="115.70" r="2.1" fill="none" stroke="#9088cc" stroke-width="1.5"/>
<circle cx="338.90" cy="118.90" r="2.1" fill="none" stroke="#9088cc" stroke-width="1.5"/>
<circle cx="338.90" cy="122.10" r="2.1" fill="none" stroke="#9088cc" stroke-width="1.5"/>
<circle cx="338.90" cy="125.30" r="2.1" fill="none" stroke="#9088cc" stroke-width="1.5"/>
<circle cx="338.90" cy="128.50" r="2.1" fill="none" stroke="#9088cc" stroke-width="1.5"/>
<circle cx="338.90" cy="131.70" r="2.1" fill="none" stroke="#9088cc" stroke-width="1.5"/>
<circle cx="338.90" cy="134.90" r="2.1" fill="none" stroke="#9088cc" stroke-width="1.5"/>
<circle cx="338.90" cy="146.90" r="2.1" fill="none" stroke="#9088cc" stroke-width="1.5"/>
<circle cx="345.30" cy="131.00" r="2.1" fill="none" stroke="#9088cc" stroke-width="1.5"/>
<circle cx="345.30" cy="134.50" r="2.1" fill="none" stroke="#9088cc" stroke-width="1.5"/>
<circle cx="345.30" cy="137.50" r="2.1" fill="none" stroke="#9088cc" stroke-width="1.5"/>
<circle cx="350.80" cy="133.60" r="2.1" fill="none" stroke="#9088cc" stroke-width="1.5"/>
<circle cx="350.80" cy="136.50" r="2.1" fill="none" stroke="#9088cc" stroke-width="1.5"/>
<circle cx="350.80" cy="139.00" r="2.1" fill="none" stroke="#9088cc" stroke-width="1.5"/>
<circle cx="362.80" cy="98.00" r="2.1" fill="none" stroke="#9088cc" stroke-width="1.5"/>
<circle cx="362.80" cy="104.70" r="2.1" fill="none" stroke="#9088cc" stroke-width="1.5"/>
<circle cx="362.80" cy="117.00" r="2.1" fill="none" stroke="#9088cc" stroke-width="1.5"/>
<circle cx="362.80" cy="119.75" r="2.1" fill="none" stroke="#9088cc" stroke-width="1.5"/>
<circle cx="362.80" cy="122.50" r="2.1" fill="none" stroke="#9088cc" stroke-width="1.5"/>
<circle cx="362.80" cy="130.00" r="2.1" fill="none" stroke="#9088cc" stroke-width="1.5"/>
<circle cx="362.80" cy="133.00" r="2.1" fill="none" stroke="#9088cc" stroke-width="1.5"/>
<circle cx="362.80" cy="136.00" r="2.1" fill="none" stroke="#9088cc" stroke-width="1.5"/>
<circle cx="362.80" cy="139.00" r="2.1" fill="none" stroke="#9088cc" stroke-width="1.5"/>
<circle cx="362.80" cy="142.00" r="2.1" fill="none" stroke="#9088cc" stroke-width="1.5"/>
<circle cx="362.80" cy="145.00" r="2.1" fill="none" stroke="#9088cc" stroke-width="1.5"/>
<circle cx="374.60" cy="118.00" r="2.1" fill="none" stroke="#9088cc" stroke-width="1.5"/>
<circle cx="374.60" cy="124.20" r="2.1" fill="none" stroke="#9088cc" stroke-width="1.5"/>
<circle cx="374.60" cy="129.60" r="2.1" fill="none" stroke="#9088cc" stroke-width="1.5"/>
<circle cx="386.90" cy="135.80" r="2.1" fill="none" stroke="#9088cc" stroke-width="1.5"/>
<circle cx="410.60" cy="114.60" r="2.1" fill="none" stroke="#9088cc" stroke-width="1.5"/>
<circle cx="410.60" cy="117.60" r="2.1" fill="none" stroke="#9088cc" stroke-width="1.5"/>
<circle cx="410.60" cy="120.60" r="2.1" fill="none" stroke="#9088cc" stroke-width="1.5"/>
<circle cx="410.60" cy="123.60" r="2.1" fill="none" stroke="#9088cc" stroke-width="1.5"/>
<circle cx="410.60" cy="136.50" r="2.1" fill="none" stroke="#9088cc" stroke-width="1.5"/>
<circle cx="410.60" cy="139.50" r="2.1" fill="none" stroke="#9088cc" stroke-width="1.5"/>
<circle cx="410.60" cy="142.50" r="2.1" fill="none" stroke="#9088cc" stroke-width="1.5"/>
<circle cx="410.60" cy="145.50" r="2.1" fill="none" stroke="#9088cc" stroke-width="1.5"/>
<circle cx="410.60" cy="148.50" r="2.1" fill="none" stroke="#9088cc" stroke-width="1.5"/>
<circle cx="434.40" cy="118.00" r="2.1" fill="none" stroke="#9088cc" stroke-width="1.5"/>
<circle cx="434.40" cy="121.00" r="2.1" fill="none" stroke="#9088cc" stroke-width="1.5"/>
<circle cx="434.40" cy="124.00" r="2.1" fill="none" stroke="#9088cc" stroke-width="1.5"/>
<circle cx="434.40" cy="127.00" r="2.1" fill="none" stroke="#9088cc" stroke-width="1.5"/>
<circle cx="434.40" cy="130.00" r="2.1" fill="none" stroke="#9088cc" stroke-width="1.5"/>
<circle cx="434.40" cy="133.00" r="2.1" fill="none" stroke="#9088cc" stroke-width="1.5"/>
<circle cx="458.50" cy="128.70" r="2.1" fill="none" stroke="#9088cc" stroke-width="1.5"/>
<circle cx="458.50" cy="131.50" r="2.1" fill="none" stroke="#9088cc" stroke-width="1.5"/>
<circle cx="458.50" cy="134.30" r="2.1" fill="none" stroke="#9088cc" stroke-width="1.5"/>
<circle cx="458.50" cy="137.10" r="2.1" fill="none" stroke="#9088cc" stroke-width="1.5"/>
<circle cx="458.50" cy="143.80" r="2.1" fill="none" stroke="#9088cc" stroke-width="1.5"/>
<circle cx="506.00" cy="123.40" r="2.1" fill="none" stroke="#9088cc" stroke-width="1.5"/>
<circle cx="506.00" cy="144.60" r="2.1" fill="none" stroke="#9088cc" stroke-width="1.5"/>
<polyline points="315.20,154.50 315.80,151.50 316.60,148.50 317.60,145.50 318.80,142.50 320.30,139.80 322.00,137.50 324.50,135.00 327.50,132.90 331.00,131.00 336.00,129.60 342.00,128.60 350.00,128.00 362.90,127.80 375.00,128.20 386.90,128.80 410.50,130.30 434.00,132.30 458.00,134.50 482.00,136.40 506.50,138.20" fill="none" stroke="#a82048" stroke-width="1.1" stroke-linejoin="round" />
<polyline points="315.20,154.50 315.80,149.50 316.80,143.50 318.00,138.50 319.80,134.30 321.80,130.50 324.50,125.80 328.00,120.80 331.50,117.20 335.00,114.60 338.50,112.60 342.00,111.00 346.00,109.90 354.00,107.70 362.80,105.50 386.90,107.20 410.50,109.40 434.00,112.00 458.00,114.80 482.00,117.60 506.50,120.40" fill="none" stroke="#a82048" stroke-width="1.25" stroke-linejoin="round" stroke-dasharray="1.2,1.0"/>
<polyline points="55.90,276.08 70.00,276.08 84.40,279.29 92.00,288.92" fill="none" stroke="#c21f4c" stroke-width="0.8" stroke-linejoin="round" />
<polyline points="55.90,277.73 70.00,277.73 84.40,280.87 92.00,290.27" fill="none" stroke="#c21f4c" stroke-width="0.8" stroke-linejoin="round" />
<polyline points="55.90,284.20 70.00,284.20 84.40,287.05 92.00,295.58" fill="none" stroke="#c21f4c" stroke-width="0.8" stroke-linejoin="round" />
<polyline points="55.90,285.47 70.00,285.47 84.40,288.26 92.00,296.62" fill="none" stroke="#c21f4c" stroke-width="0.8" stroke-linejoin="round" />
<polyline points="55.90,291.69 70.00,291.69 84.40,294.20 92.00,301.72" fill="none" stroke="#c21f4c" stroke-width="0.8" stroke-linejoin="round" />
<polyline points="55.90,292.96 70.00,292.96 84.40,295.41 92.00,302.76" fill="none" stroke="#c21f4c" stroke-width="0.8" stroke-linejoin="round" />
<polyline points="55.90,294.86 70.00,294.86 84.40,297.23 92.00,304.32" fill="none" stroke="#c21f4c" stroke-width="0.8" stroke-linejoin="round" />
<polyline points="55.90,296.77 70.00,296.77 84.40,299.05 92.00,305.88" fill="none" stroke="#c21f4c" stroke-width="0.8" stroke-linejoin="round" />
<polyline points="55.90,299.94 70.00,299.94 84.40,302.08 92.00,308.48" fill="none" stroke="#c21f4c" stroke-width="0.8" stroke-linejoin="round" />
<polyline points="55.90,301.08 70.00,301.08 84.40,303.17 92.00,309.42" fill="none" stroke="#c21f4c" stroke-width="0.8" stroke-linejoin="round" />
<polyline points="55.90,304.25 70.00,304.25 84.40,306.20 92.00,312.02" fill="none" stroke="#c21f4c" stroke-width="0.8" stroke-linejoin="round" />
<polyline points="55.90,305.52 70.00,305.52 84.40,307.41 92.00,313.06" fill="none" stroke="#c21f4c" stroke-width="0.8" stroke-linejoin="round" />
<polyline points="55.90,308.06 70.00,308.06 84.40,309.83 92.00,315.14" fill="none" stroke="#c21f4c" stroke-width="0.8" stroke-linejoin="round" />
<polyline points="55.90,309.96 70.00,309.96 84.40,311.65 92.00,316.70" fill="none" stroke="#c21f4c" stroke-width="0.8" stroke-linejoin="round" />
<polyline points="55.90,331.54 70.00,331.54 84.40,332.17 92.00,333.44" fill="none" stroke="#c21f4c" stroke-width="0.7" stroke-linejoin="round" stroke-opacity="0.7"/>
<polyline points="102.90,294.70 128.90,311.00 166.30,323.70 203.50,336.20 240.40,343.80" fill="none" stroke="#c21f4c" stroke-width="0.8" stroke-linejoin="round" />
<polyline points="102.90,297.00 128.90,314.00 166.30,327.50 203.50,339.00 240.40,344.50" fill="none" stroke="#c21f4c" stroke-width="0.8" stroke-linejoin="round" />
<polyline points="102.90,299.50 128.90,318.00 166.30,330.00 203.50,340.50 240.40,345.00" fill="none" stroke="#c21f4c" stroke-width="0.8" stroke-linejoin="round" />
<polyline points="102.90,301.00 128.90,322.00 166.30,335.00 203.50,342.50 240.40,345.50" fill="none" stroke="#c21f4c" stroke-width="0.8" stroke-linejoin="round" />
<polyline points="102.90,303.00 128.90,325.00 166.30,337.00 203.50,343.50 240.40,346.00" fill="none" stroke="#c21f4c" stroke-width="0.8" stroke-linejoin="round" />
<polyline points="102.90,305.00 128.90,327.50 166.30,338.50 203.50,344.00 240.40,346.20" fill="none" stroke="#c21f4c" stroke-width="0.8" stroke-linejoin="round" />
<polyline points="102.90,307.00 128.90,329.00 166.30,339.50 203.50,344.50 240.40,346.40" fill="none" stroke="#c21f4c" stroke-width="0.8" stroke-linejoin="round" />
<polyline points="102.90,309.00 128.90,330.50 166.30,340.50 203.50,345.00 240.40,346.60" fill="none" stroke="#c21f4c" stroke-width="0.8" stroke-linejoin="round" />
<polyline points="102.90,311.00 128.90,331.50 166.30,341.00 203.50,345.30 240.40,346.80" fill="none" stroke="#c21f4c" stroke-width="0.8" stroke-linejoin="round" />
<polyline points="102.90,313.00 128.90,332.50 166.30,341.50 203.50,345.60 240.40,346.90" fill="none" stroke="#c21f4c" stroke-width="0.8" stroke-linejoin="round" />
<polyline points="102.90,315.00 128.90,333.50 166.30,342.00 203.50,345.80 240.40,347.00" fill="none" stroke="#c21f4c" stroke-width="0.8" stroke-linejoin="round" />
<polyline points="102.90,317.00 128.90,334.50 166.30,342.50 203.50,346.00 240.40,347.00" fill="none" stroke="#c21f4c" stroke-width="0.8" stroke-linejoin="round" />
<polyline points="102.90,319.00 128.90,335.50 166.30,343.00 203.50,346.20 240.40,347.10" fill="none" stroke="#c21f4c" stroke-width="0.8" stroke-linejoin="round" />
<polyline points="102.90,321.00 128.90,336.00 166.30,343.50 203.50,346.40 240.40,347.10" fill="none" stroke="#c21f4c" stroke-width="0.8" stroke-linejoin="round" />
<polyline points="102.90,323.60 128.90,337.00 166.30,344.00 203.50,346.60 240.40,347.20" fill="none" stroke="#c21f4c" stroke-width="0.8" stroke-linejoin="round" />
<polyline points="102.90,335.30 128.90,338.50 166.30,341.80 203.50,345.00 240.40,346.50" fill="none" stroke="#c21f4c" stroke-width="0.7" stroke-linejoin="round" stroke-opacity="0.7"/>
<circle cx="55.90" cy="336.60" r="2.6" fill="#36ab3e"/>
<circle cx="70.00" cy="240.60" r="2.6" fill="#36ab3e"/>
<circle cx="70.00" cy="243.10" r="2.6" fill="#36ab3e"/>
<circle cx="70.00" cy="259.20" r="2.6" fill="#36ab3e"/>
<circle cx="70.00" cy="261.90" r="2.6" fill="#36ab3e"/>
<circle cx="70.00" cy="264.60" r="2.6" fill="#36ab3e"/>
<circle cx="70.00" cy="267.40" r="2.6" fill="#36ab3e"/>
<circle cx="70.00" cy="270.10" r="2.6" fill="#36ab3e"/>
<circle cx="70.00" cy="278.00" r="2.6" fill="#36ab3e"/>
<circle cx="70.00" cy="280.80" r="2.6" fill="#36ab3e"/>
<circle cx="70.00" cy="283.60" r="2.6" fill="#36ab3e"/>
<circle cx="70.00" cy="286.40" r="2.6" fill="#36ab3e"/>
<circle cx="70.00" cy="289.20" r="2.6" fill="#36ab3e"/>
<circle cx="70.00" cy="292.00" r="2.6" fill="#36ab3e"/>
<circle cx="70.00" cy="294.80" r="2.6" fill="#36ab3e"/>
<circle cx="70.00" cy="297.60" r="2.6" fill="#36ab3e"/>
<circle cx="70.00" cy="300.40" r="2.6" fill="#36ab3e"/>
<circle cx="70.00" cy="303.20" r="2.6" fill="#36ab3e"/>
<circle cx="70.00" cy="306.00" r="2.6" fill="#36ab3e"/>
<circle cx="70.00" cy="308.80" r="2.6" fill="#36ab3e"/>
<circle cx="70.00" cy="311.60" r="2.6" fill="#36ab3e"/>
<circle cx="84.50" cy="247.90" r="2.6" fill="#36ab3e"/>
<circle cx="84.50" cy="255.20" r="2.6" fill="#36ab3e"/>
<circle cx="84.50" cy="266.50" r="2.6" fill="#36ab3e"/>
<circle cx="84.50" cy="273.70" r="2.6" fill="#36ab3e"/>
<circle cx="84.50" cy="283.00" r="2.6" fill="#36ab3e"/>
<circle cx="84.50" cy="285.80" r="2.6" fill="#36ab3e"/>
<circle cx="84.50" cy="288.60" r="2.6" fill="#36ab3e"/>
<circle cx="84.50" cy="291.40" r="2.6" fill="#36ab3e"/>
<circle cx="84.50" cy="294.20" r="2.6" fill="#36ab3e"/>
<circle cx="84.50" cy="297.00" r="2.6" fill="#36ab3e"/>
<circle cx="84.50" cy="299.80" r="2.6" fill="#36ab3e"/>
<circle cx="84.50" cy="302.60" r="2.6" fill="#36ab3e"/>
<circle cx="84.50" cy="305.40" r="2.6" fill="#36ab3e"/>
<circle cx="84.50" cy="308.20" r="2.6" fill="#36ab3e"/>
<circle cx="108.00" cy="284.60" r="2.6" fill="#36ab3e"/>
<circle cx="108.00" cy="292.40" r="2.6" fill="#36ab3e"/>
<circle cx="108.00" cy="298.50" r="2.6" fill="#36ab3e"/>
<circle cx="108.00" cy="301.70" r="2.6" fill="#36ab3e"/>
<circle cx="108.00" cy="304.90" r="2.6" fill="#36ab3e"/>
<circle cx="108.00" cy="308.10" r="2.6" fill="#36ab3e"/>
<circle cx="108.00" cy="311.30" r="2.6" fill="#36ab3e"/>
<circle cx="108.00" cy="314.50" r="2.6" fill="#36ab3e"/>
<circle cx="108.00" cy="317.70" r="2.6" fill="#36ab3e"/>
<circle cx="108.00" cy="320.90" r="2.6" fill="#36ab3e"/>
<circle cx="108.00" cy="324.10" r="2.6" fill="#36ab3e"/>
<circle cx="128.90" cy="254.40" r="2.6" fill="#36ab3e"/>
<circle cx="128.90" cy="281.30" r="2.6" fill="#36ab3e"/>
<circle cx="128.90" cy="309.50" r="2.6" fill="#36ab3e"/>
<circle cx="128.90" cy="312.40" r="2.6" fill="#36ab3e"/>
<circle cx="128.90" cy="315.30" r="2.6" fill="#36ab3e"/>
<circle cx="128.90" cy="318.20" r="2.6" fill="#36ab3e"/>
<circle cx="128.90" cy="321.10" r="2.6" fill="#36ab3e"/>
<circle cx="128.90" cy="324.00" r="2.6" fill="#36ab3e"/>
<circle cx="128.90" cy="336.70" r="2.6" fill="#36ab3e"/>
<circle cx="166.30" cy="316.90" r="2.6" fill="#36ab3e"/>
<circle cx="166.30" cy="322.70" r="2.6" fill="#36ab3e"/>
<circle cx="166.30" cy="336.50" r="2.6" fill="#36ab3e"/>
<circle cx="166.30" cy="339.60" r="2.6" fill="#36ab3e"/>
<circle cx="166.30" cy="342.30" r="2.6" fill="#36ab3e"/>
<circle cx="203.50" cy="311.20" r="2.6" fill="#36ab3e"/>
<circle cx="203.50" cy="336.50" r="2.6" fill="#36ab3e"/>
<circle cx="203.50" cy="341.90" r="2.6" fill="#36ab3e"/>
<circle cx="203.50" cy="347.30" r="2.6" fill="#36ab3e"/>
<circle cx="240.40" cy="341.90" r="2.6" fill="#36ab3e"/>
<circle cx="240.40" cy="347.30" r="2.6" fill="#36ab3e"/>
<polyline points="315.30,321.40 318.94,318.45 322.58,316.08 326.22,314.17 329.86,312.65 333.50,311.42 337.14,310.44 340.78,309.65 344.42,309.02 348.06,308.51 351.70,308.10" fill="none" stroke="#c21f4c" stroke-width="0.8" stroke-linejoin="round" />
<polyline points="315.30,319.50 318.94,316.28 322.58,313.70 326.22,311.62 329.86,309.96 333.50,308.62 337.14,307.55 340.78,306.69 344.42,306.00 348.06,305.44 351.70,305.00" fill="none" stroke="#c21f4c" stroke-width="0.8" stroke-linejoin="round" />
<polyline points="315.30,318.00 318.94,314.67 322.58,312.00 326.22,309.85 329.86,308.13 333.50,306.75 337.14,305.64 340.78,304.75 344.42,304.03 348.06,303.46 351.70,303.00" fill="none" stroke="#c21f4c" stroke-width="0.8" stroke-linejoin="round" />
<polyline points="315.30,316.50 318.94,312.84 322.58,309.89 326.22,307.53 329.86,305.64 333.50,304.12 337.14,302.90 340.78,301.92 344.42,301.14 348.06,300.51 351.70,300.00" fill="none" stroke="#c21f4c" stroke-width="0.8" stroke-linejoin="round" />
<polyline points="315.30,315.20 318.94,311.27 322.58,308.11 326.22,305.58 329.86,303.55 333.50,301.92 337.14,300.61 340.78,299.56 344.42,298.72 348.06,298.04 351.70,297.50" fill="none" stroke="#c21f4c" stroke-width="0.8" stroke-linejoin="round" />
<polyline points="315.30,314.50 318.94,310.52 322.58,307.33 326.22,304.77 329.86,302.72 333.50,301.07 337.14,299.75 340.78,298.69 344.42,297.83 348.06,297.15 351.70,296.60" fill="none" stroke="#c21f4c" stroke-width="0.8" stroke-linejoin="round" />
<polyline points="315.30,313.50 318.94,309.50 322.58,306.29 326.22,303.72 329.86,301.65 333.50,300.00 337.14,298.66 340.78,297.60 344.42,296.74 348.06,296.05 351.70,295.50" fill="none" stroke="#c21f4c" stroke-width="0.8" stroke-linejoin="round" />
<polyline points="315.30,312.00 318.94,307.78 322.58,304.39 326.22,301.68 329.86,299.50 333.50,297.75 337.14,296.34 340.78,295.21 344.42,294.31 348.06,293.58 351.70,293.00" fill="none" stroke="#c21f4c" stroke-width="0.8" stroke-linejoin="round" />
<polyline points="315.30,310.00 318.94,305.56 322.58,301.99 326.22,299.13 329.86,296.84 333.50,294.99 337.14,293.52 340.78,292.33 344.42,291.38 348.06,290.61 351.70,290.00" fill="none" stroke="#c21f4c" stroke-width="0.8" stroke-linejoin="round" />
<polyline points="315.30,308.00 318.94,303.34 322.58,299.59 326.22,296.59 329.86,294.18 333.50,292.24 337.14,290.69 340.78,289.45 344.42,288.45 348.06,287.64 351.70,287.00" fill="none" stroke="#c21f4c" stroke-width="0.8" stroke-linejoin="round" />
<polyline points="315.30,306.00 318.94,301.11 322.58,297.19 326.22,294.05 329.86,291.52 333.50,289.49 337.14,287.87 340.78,286.56 344.42,285.52 348.06,284.67 351.70,284.00" fill="none" stroke="#c21f4c" stroke-width="0.8" stroke-linejoin="round" />
<polyline points="315.30,304.00 318.94,298.89 322.58,294.79 326.22,291.50 329.86,288.86 333.50,286.74 337.14,285.04 340.78,283.68 344.42,282.58 348.06,281.71 351.70,281.00" fill="none" stroke="#c21f4c" stroke-width="0.8" stroke-linejoin="round" />
<polyline points="315.30,302.00 318.94,296.78 322.58,292.59 326.22,289.23 329.86,286.53 333.50,284.37 337.14,282.63 340.78,281.24 344.42,280.12 348.06,279.22 351.70,278.50" fill="none" stroke="#c21f4c" stroke-width="0.8" stroke-linejoin="round" />
<polyline points="315.30,300.10 318.94,294.79 322.58,290.53 326.22,287.11 329.86,284.37 333.50,282.17 337.14,280.40 340.78,278.98 344.42,277.85 348.06,276.93 351.70,276.20" fill="none" stroke="#c21f4c" stroke-width="0.8" stroke-linejoin="round" />
<polyline points="315.30,317.00 318.94,313.00 322.58,309.79 326.22,307.22 329.86,305.15 333.50,303.50 337.14,302.16 340.78,301.10 344.42,300.24 348.06,299.55 351.70,299.00" fill="none" stroke="#c21f4c" stroke-width="0.8" stroke-linejoin="round" />
<polyline points="315.30,315.80 318.94,311.80 322.58,308.59 326.22,306.02 329.86,303.95 333.50,302.30 337.14,300.96 340.78,299.90 344.42,299.04 348.06,298.35 351.70,297.80" fill="none" stroke="#c21f4c" stroke-width="0.8" stroke-linejoin="round" />
<polyline points="315.30,315.20 318.94,311.11 322.58,307.83 326.22,305.20 329.86,303.09 333.50,301.40 337.14,300.03 340.78,298.94 344.42,298.07 348.06,297.36 351.70,296.80" fill="none" stroke="#a82048" stroke-width="1.8" stroke-linejoin="round" />
<polyline points="362.60,272.20 367.80,271.00 388.60,277.60 426.00,274.00 462.40,283.00 499.50,292.00" fill="none" stroke="#c21f4c" stroke-width="0.8" stroke-linejoin="round" />
<polyline points="362.60,273.70 367.80,272.50 388.60,278.50 426.00,284.00 462.40,291.50 499.50,298.70" fill="none" stroke="#c21f4c" stroke-width="0.8" stroke-linejoin="round" />
<polyline points="362.60,277.60 367.80,277.50 388.60,284.00 426.00,285.50 462.40,294.00 499.50,301.00" fill="none" stroke="#c21f4c" stroke-width="0.8" stroke-linejoin="round" />
<polyline points="362.60,280.80 367.80,281.00 388.60,286.00 426.00,287.80 462.40,297.00 499.50,302.50" fill="none" stroke="#c21f4c" stroke-width="0.8" stroke-linejoin="round" />
<polyline points="362.60,284.00 367.80,284.50 388.60,289.00 426.00,293.00 462.40,299.00 499.50,303.50" fill="none" stroke="#c21f4c" stroke-width="0.8" stroke-linejoin="round" />
<polyline points="362.60,287.50 367.80,288.00 388.60,291.50 426.00,295.00 462.40,300.50 499.50,304.50" fill="none" stroke="#c21f4c" stroke-width="0.8" stroke-linejoin="round" />
<polyline points="362.60,290.90 367.80,291.50 388.60,295.00 426.00,297.00 462.40,302.00 499.50,305.50" fill="none" stroke="#c21f4c" stroke-width="0.8" stroke-linejoin="round" />
<polyline points="362.60,292.50 367.80,293.00 388.60,296.50 426.00,299.00 462.40,303.00 499.50,306.50" fill="none" stroke="#c21f4c" stroke-width="0.8" stroke-linejoin="round" />
<polyline points="362.60,294.80 367.80,295.00 388.60,297.00 426.00,303.40 462.40,305.50 499.50,307.50" fill="none" stroke="#c21f4c" stroke-width="0.8" stroke-linejoin="round" />
<polyline points="362.60,297.20 367.80,297.50 388.60,300.00 426.00,305.00 462.40,307.50 499.50,309.50" fill="none" stroke="#c21f4c" stroke-width="0.8" stroke-linejoin="round" />
<polyline points="362.60,298.70 367.80,299.00 388.60,302.00 426.00,307.00 462.40,309.50 499.50,311.00" fill="none" stroke="#c21f4c" stroke-width="0.8" stroke-linejoin="round" />
<polyline points="362.60,302.60 367.80,303.00 388.60,305.00 426.00,309.00 462.40,312.00 499.50,314.50" fill="none" stroke="#c21f4c" stroke-width="0.8" stroke-linejoin="round" />
<polyline points="362.60,305.00 367.80,305.50 388.60,308.00 426.00,313.60 462.40,315.50 499.50,317.00" fill="none" stroke="#c21f4c" stroke-width="0.8" stroke-linejoin="round" />
<polyline points="362.60,306.50 367.80,307.00 388.60,310.00 426.00,316.00 462.40,318.50 499.50,320.50" fill="none" stroke="#c21f4c" stroke-width="0.8" stroke-linejoin="round" />
<polyline points="362.60,291.50 367.80,292.00 388.60,297.00 426.00,305.00 462.40,309.50 499.50,313.30" fill="none" stroke="#a82048" stroke-width="1.8" stroke-linejoin="round" />
<circle cx="315.30" cy="295.70" r="2.5" fill="#9088cc"/>
<circle cx="315.30" cy="298.70" r="2.5" fill="#9088cc"/>
<circle cx="315.30" cy="301.70" r="2.5" fill="#9088cc"/>
<circle cx="315.30" cy="304.70" r="2.5" fill="#9088cc"/>
<circle cx="315.30" cy="307.70" r="2.5" fill="#9088cc"/>
<circle cx="315.30" cy="310.70" r="2.5" fill="#9088cc"/>
<circle cx="315.30" cy="313.70" r="2.5" fill="#9088cc"/>
<circle cx="315.30" cy="316.70" r="2.5" fill="#9088cc"/>
<circle cx="315.30" cy="319.70" r="2.5" fill="#9088cc"/>
<circle cx="315.30" cy="322.70" r="2.5" fill="#9088cc"/>
<circle cx="315.30" cy="325.70" r="2.5" fill="#9088cc"/>
<circle cx="329.60" cy="276.20" r="2.5" fill="#9088cc"/>
<circle cx="329.60" cy="279.70" r="2.5" fill="#9088cc"/>
<circle cx="329.60" cy="285.00" r="2.5" fill="#9088cc"/>
<circle cx="329.60" cy="288.30" r="2.5" fill="#9088cc"/>
<circle cx="329.60" cy="291.60" r="2.5" fill="#9088cc"/>
<circle cx="329.60" cy="294.90" r="2.5" fill="#9088cc"/>
<circle cx="329.60" cy="298.20" r="2.5" fill="#9088cc"/>
<circle cx="329.60" cy="301.50" r="2.5" fill="#9088cc"/>
<circle cx="329.60" cy="304.80" r="2.5" fill="#9088cc"/>
<circle cx="329.60" cy="308.10" r="2.5" fill="#9088cc"/>
<circle cx="329.60" cy="311.40" r="2.5" fill="#9088cc"/>
<circle cx="343.90" cy="270.90" r="2.5" fill="#9088cc"/>
<circle cx="343.90" cy="278.00" r="2.5" fill="#9088cc"/>
<circle cx="343.90" cy="283.30" r="2.5" fill="#9088cc"/>
<circle cx="343.90" cy="286.40" r="2.5" fill="#9088cc"/>
<circle cx="343.90" cy="289.50" r="2.5" fill="#9088cc"/>
<circle cx="343.90" cy="292.60" r="2.5" fill="#9088cc"/>
<circle cx="343.90" cy="295.70" r="2.5" fill="#9088cc"/>
<circle cx="343.90" cy="298.80" r="2.5" fill="#9088cc"/>
<circle cx="343.90" cy="301.90" r="2.5" fill="#9088cc"/>
<circle cx="343.90" cy="305.00" r="2.5" fill="#9088cc"/>
<circle cx="343.90" cy="308.10" r="2.5" fill="#9088cc"/>
<circle cx="343.90" cy="314.30" r="2.5" fill="#9088cc"/>
<circle cx="367.80" cy="256.40" r="2.5" fill="#9088cc"/>
<circle cx="367.80" cy="274.70" r="2.5" fill="#9088cc"/>
<circle cx="367.80" cy="277.80" r="2.5" fill="#9088cc"/>
<circle cx="367.80" cy="280.90" r="2.5" fill="#9088cc"/>
<circle cx="367.80" cy="284.00" r="2.5" fill="#9088cc"/>
<circle cx="367.80" cy="287.10" r="2.5" fill="#9088cc"/>
<circle cx="367.80" cy="297.00" r="2.5" fill="#9088cc"/>
<circle cx="367.80" cy="299.50" r="2.5" fill="#9088cc"/>
<circle cx="367.80" cy="304.50" r="2.5" fill="#9088cc"/>
<circle cx="367.80" cy="307.30" r="2.5" fill="#9088cc"/>
<circle cx="388.60" cy="274.70" r="2.5" fill="#9088cc"/>
<circle cx="388.60" cy="277.80" r="2.5" fill="#9088cc"/>
<circle cx="388.60" cy="280.90" r="2.5" fill="#9088cc"/>
<circle cx="388.60" cy="284.00" r="2.5" fill="#9088cc"/>
<circle cx="388.60" cy="287.10" r="2.5" fill="#9088cc"/>
<circle cx="388.60" cy="290.20" r="2.5" fill="#9088cc"/>
<circle cx="388.60" cy="293.30" r="2.5" fill="#9088cc"/>
<circle cx="388.60" cy="296.40" r="2.5" fill="#9088cc"/>
<circle cx="388.60" cy="299.50" r="2.5" fill="#9088cc"/>
<circle cx="388.60" cy="302.60" r="2.5" fill="#9088cc"/>
<circle cx="388.60" cy="305.70" r="2.5" fill="#9088cc"/>
<circle cx="388.60" cy="308.80" r="2.5" fill="#9088cc"/>
<circle cx="426.00" cy="240.00" r="2.5" fill="#9088cc"/>
<circle cx="426.00" cy="279.30" r="2.5" fill="#9088cc"/>
<circle cx="426.00" cy="281.60" r="2.5" fill="#9088cc"/>
<circle cx="426.00" cy="291.80" r="2.5" fill="#9088cc"/>
<circle cx="426.00" cy="295.00" r="2.5" fill="#9088cc"/>
<circle cx="426.00" cy="298.20" r="2.5" fill="#9088cc"/>
<circle cx="426.00" cy="301.40" r="2.5" fill="#9088cc"/>
<circle cx="426.00" cy="304.60" r="2.5" fill="#9088cc"/>
<circle cx="426.00" cy="307.80" r="2.5" fill="#9088cc"/>
<circle cx="426.00" cy="311.00" r="2.5" fill="#9088cc"/>
<circle cx="426.00" cy="314.20" r="2.5" fill="#9088cc"/>
<circle cx="426.00" cy="331.70" r="2.5" fill="#9088cc"/>
<circle cx="462.40" cy="300.30" r="2.5" fill="#9088cc"/>
<circle cx="462.40" cy="303.10" r="2.5" fill="#9088cc"/>
<circle cx="462.40" cy="305.90" r="2.5" fill="#9088cc"/>
<circle cx="462.40" cy="308.70" r="2.5" fill="#9088cc"/>
<circle cx="462.40" cy="311.50" r="2.5" fill="#9088cc"/>
<circle cx="462.40" cy="314.30" r="2.5" fill="#9088cc"/>
<circle cx="462.40" cy="317.10" r="2.5" fill="#9088cc"/>
<circle cx="462.40" cy="319.90" r="2.5" fill="#9088cc"/>
<circle cx="462.40" cy="331.50" r="2.5" fill="#9088cc"/>
<circle cx="499.80" cy="303.90" r="2.5" fill="#9088cc"/>
<circle cx="499.80" cy="306.60" r="2.5" fill="#9088cc"/>
<circle cx="499.80" cy="309.30" r="2.5" fill="#9088cc"/>
<circle cx="499.80" cy="312.00" r="2.5" fill="#9088cc"/>
<circle cx="499.80" cy="314.70" r="2.5" fill="#9088cc"/>
<circle cx="499.80" cy="317.40" r="2.5" fill="#9088cc"/>
<circle cx="499.80" cy="320.10" r="2.5" fill="#9088cc"/>
<rect x="0.5" y="0.5" width="519" height="383" fill="none" stroke="#555" stroke-width="1"/>
</svg>
</body></html>
